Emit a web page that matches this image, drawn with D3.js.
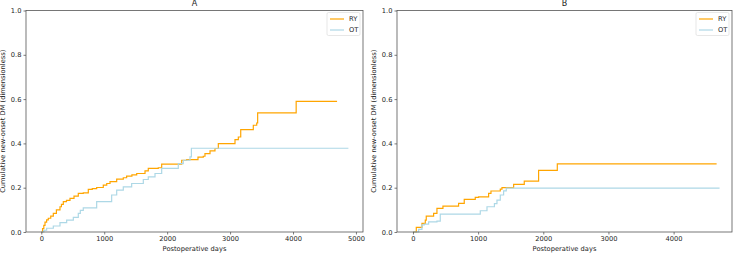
<!DOCTYPE html>
<html lang="en">
<head>
<meta charset="UTF-8"/>
<title>Cumulative new-onset DM</title>
<script src="https://d3js.org/d3.v7.min.js"></script>
<style>
	body { margin: 0; background: white; }
	text { font-family: "DejaVu Sans", sans-serif; fill: #222; }
</style>
</head>
<body>
<div id="chart"></div>
<script>
	// Panel A, RY group: event days and cumulative incidence
	var daysA_RY = [0, 20, 40, 59, 85, 111, 150, 191, 240, 297, 320, 350, 400, 456, 520, 588, 667, 747, 810, 880, 985, 1040, 1092, 1198, 1303, 1356, 1440, 1516, 1648, 1700, 1859, 1913, 2231, 2310, 2490, 2574, 2601, 2681, 2760, 2813, 3078, 3131, 3169, 3369, 3423, 3438, 4050, 4700];
	var valsA_RY = [0, 0.015, 0.030, 0.045, 0.055, 0.062, 0.072, 0.084, 0.100, 0.114, 0.125, 0.137, 0.143, 0.152, 0.162, 0.174, 0.177, 0.192, 0.196, 0.201, 0.212, 0.219, 0.227, 0.239, 0.245, 0.252, 0.258, 0.264, 0.276, 0.287, 0.290, 0.306, 0.324, 0.327, 0.338, 0.342, 0.354, 0.366, 0.377, 0.399, 0.417, 0.429, 0.462, 0.482, 0.492, 0.538, 0.590, 0.590];

	// Panel A, OT group
	var daysA_OT = [0, 40, 85, 191, 297, 403, 509, 588, 620, 667, 880, 1118, 1198, 1303, 1436, 1621, 1700, 1807, 1913, 2177, 2256, 2363, 2385, 4880];
	var valsA_OT = [0, 0.008, 0.017, 0.027, 0.042, 0.054, 0.066, 0.084, 0.098, 0.109, 0.137, 0.167, 0.189, 0.204, 0.219, 0.237, 0.249, 0.264, 0.287, 0.309, 0.324, 0.339, 0.378, 0.378];

	// Panel B, RY group
	var daysB_RY = [0, 51, 138, 189, 204, 317, 368, 460, 700, 787, 956, 1007, 1161, 1197, 1340, 1366, 1545, 1708, 1928, 2215, 4660];
	var valsB_RY = [0, 0.021, 0.039, 0.054, 0.072, 0.084, 0.107, 0.117, 0.129, 0.147, 0.156, 0.159, 0.174, 0.185, 0.194, 0.200, 0.215, 0.230, 0.278, 0.308, 0.308];

	// Panel B, OT group
	var daysB_OT = [0, 87, 138, 173, 240, 368, 419, 1033, 1136, 1250, 1289, 1340, 1391, 1432, 4705];
	var valsB_OT = [0, 0.012, 0.032, 0.036, 0.046, 0.049, 0.081, 0.096, 0.114, 0.128, 0.144, 0.167, 0.186, 0.198, 0.198];

	var yTicks = [0, 0.2, 0.4, 0.6, 0.8, 1.0];
	var seriesNames = ["RY", "OT"];
	var seriesColors = ["orange", "lightblue"];

	var panels = [
		{ title: "A", left: 26, right: 363, domain: [-243, 5112], xTicks: [0, 1000, 2000, 3000, 4000, 5000],
		  series: [[daysA_RY, valsA_RY], [daysA_OT, valsA_OT]] },
		{ title: "B", left: 397, right: 732, domain: [-245, 4896], xTicks: [0, 1000, 2000, 3000, 4000],
		  series: [[daysB_RY, valsB_RY], [daysB_OT, valsB_OT]] }
	];

	var w = 736;
	var h = 254;
	var plotTop = 10.5;
	var plotBottom = 232;
	var fs = 6.7;

	var svg = d3.select("#chart")
		.append("svg")
		.attr("width", w)
		.attr("height", h);

	panels.forEach(function(p) {
		var xScale = d3.scaleLinear()
			.domain(p.domain)
			.range([p.left, p.right]);
		var yScale = d3.scaleLinear()
			.domain([0, 1])
			.range([plotBottom, plotTop]);

		var g = svg.append("g");

		//lines
		p.series.forEach(function(s, k) {
			var pts = s[0].map(function(d, i) { return [d, s[1][i]]; });
			var line = d3.line()
				.x(function(d) { return xScale(d[0]); })
				.y(function(d) { return yScale(d[1]); })
				.curve(d3.curveStepAfter);
			g.append("path")
				.datum(pts)
				.attr("d", line)
				.attr("fill", "none")
				.attr("stroke", seriesColors[k])
				.attr("stroke-width", 1.2);
		});

		//axes
		var xAxis = d3.axisBottom(xScale)
			.tickValues(p.xTicks)
			.tickSize(2.5)
			.tickPadding(2)
			.tickFormat(d3.format("d"));
		var yAxis = d3.axisLeft(yScale)
			.tickValues(yTicks)
			.tickSize(2.5)
			.tickPadding(2)
			.tickFormat(d3.format(".1f"));

		var gx = g.append("g")
			.attr("transform", "translate(0," + plotBottom + ")")
			.call(xAxis);
		var gy = g.append("g")
			.attr("transform", "translate(" + p.left + ",0)")
			.call(yAxis);
		[gx, gy].forEach(function(a) {
			a.select(".domain").remove();
			a.selectAll("line").attr("stroke", "#444").attr("stroke-width", 0.7);
			a.selectAll("text").attr("font-size", fs).attr("font-family", "DejaVu Sans").attr("fill", "#222");
		});

		//frame
		g.append("rect")
			.attr("x", p.left)
			.attr("y", plotTop)
			.attr("width", p.right - p.left)
			.attr("height", plotBottom - plotTop)
			.attr("fill", "none")
			.attr("stroke", "#555")
			.attr("stroke-width", 0.8);

		//title and labels
		g.append("text")
			.attr("x", (p.left + p.right) / 2)
			.attr("y", 6)
			.attr("text-anchor", "middle")
			.attr("font-size", 8)
			.text(p.title);
		g.append("text")
			.attr("x", (p.left + p.right) / 2)
			.attr("y", 251)
			.attr("text-anchor", "middle")
			.attr("font-size", fs)
			.text("Postoperative days");
		g.append("text")
			.attr("transform", "translate(" + (p.left - 21.5) + "," + ((plotTop + plotBottom) / 2) + ") rotate(-90)")
			.attr("text-anchor", "middle")
			.attr("font-size", fs)
			.text("Cumulative new-onset DM (dimensionless)");

		//legend
		var lx = p.right - 36;
		var legend = g.append("g");
		legend.append("rect")
			.attr("x", lx)
			.attr("y", 12.5)
			.attr("width", 33)
			.attr("height", 23)
			.attr("rx", 1.5)
			.attr("fill", "white")
			.attr("stroke", "#ddd")
			.attr("stroke-width", 0.7);
		seriesNames.forEach(function(name, k) {
			var ly = 19 + k * 11;
			legend.append("line")
				.attr("x1", lx + 3)
				.attr("x2", lx + 17)
				.attr("y1", ly)
				.attr("y2", ly)
				.attr("stroke", seriesColors[k])
				.attr("stroke-width", 1.2);
			legend.append("text")
				.attr("x", lx + 22)
				.attr("y", ly + 2.4)
				.attr("font-size", fs)
				.text(name);
		});
	});
</script>
</body>
</html>
